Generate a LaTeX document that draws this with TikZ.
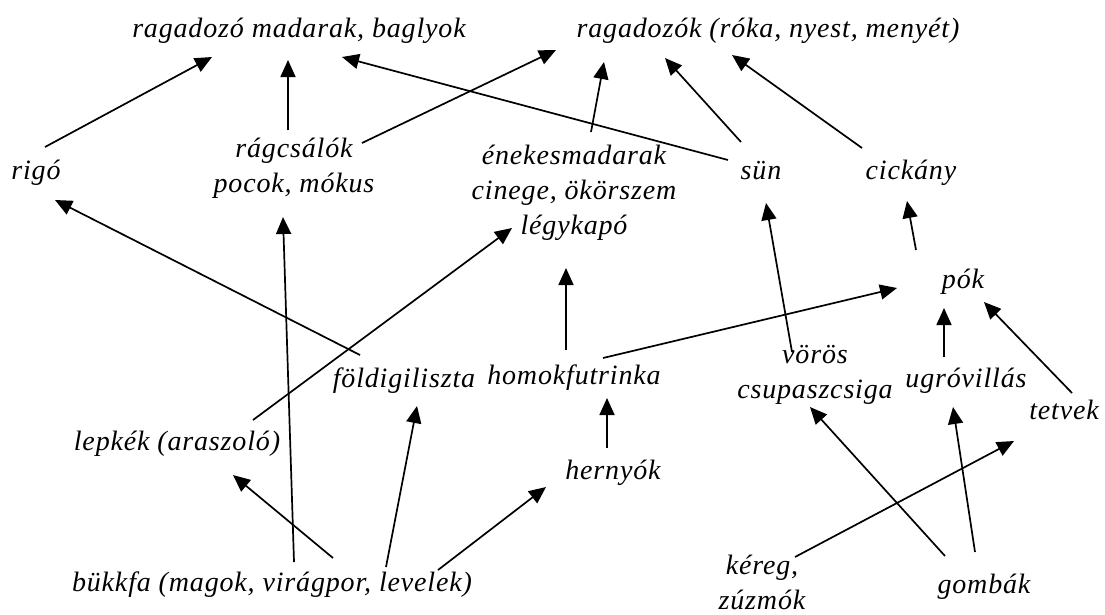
\documentclass[tikz,border=0pt]{standalone}
\usepackage{fontspec}
\setmainfont{Liberation Serif}[LetterSpace=3]
\usetikzlibrary{arrows.meta}

\tikzset{
  taxon/.style={font=\fontsize{28}{35}\selectfont\itshape, inner sep=0pt,
    text height=20pt, text depth=6pt},
  taxa/.style={font=\fontsize{28}{35}\selectfont\itshape, inner sep=0pt,
    align=center},
  feed/.style={-{Triangle[length=17pt, width=15pt]}, line width=1.7pt}
}

\begin{document}
\begin{tikzpicture}[x=1pt, y=-1pt]
  \useasboundingbox (0,0) rectangle (1105,614);

  % Top predators
  \node[taxon] (rmb) at (299,30) {ragadozó madarak, baglyok};
  \node[taxon] (rag) at (768,30) {ragadozók (róka, nyest, menyét)};

  % Consumers
  \node[taxon] (rigo) at (36,172) {rigó};
  \node[taxa] (ragcs) at (294,168) {rágcsálók\\pocok, mókus};
  \node[taxa] (enekes) at (574,193) {énekesmadarak\\cinege, ökörszem\\légykapó};
  \node[taxon] (sun) at (761,172) {sün};
  \node[taxon] (cick) at (911,172) {cickány};
  \node[taxon] (pok) at (963,281) {pók};
  \node[taxon] (fold) at (404,380) {földigiliszta};
  \node[taxon] (homok) at (574,377) {homokfutrinka};
  \node[taxa] (voros) at (815,375) {vörös\\csupaszcsiga};
  \node[taxon] (ugro) at (966,380) {ugróvillás};
  \node[taxon] (tetvek) at (1064,412) {tetvek};
  \node[taxon] (lepkek) at (177,443) {lepkék (araszoló)};
  \node[taxon] (hernyok) at (613,472) {hernyók};

  % Producers
  \node[taxon] (bukk) at (272,584) {bükkfa (magok, virágpor, levelek)};
  \node[taxa] (kereg) at (762,582) {kéreg,\\zúzmók};
  \node[taxon] (gomb) at (984,586) {gombák};

  % Who is eaten by whom: from/offset -> to/offset
  \foreach \a/\ax/\ay/\b/\bx/\by in {
    rigo/9/-25/rmb/-87/27,
    ragcs/-6/-38/rmb/-11/30,
    ragcs/68/-25/rag/-212/20,
    sun/-33/-12/rmb/43/27,
    enekes/17/-61/rag/-164/32,
    sun/-20/-30/rag/-103/28,
    cick/-49/-24/rag/-36/25,
    fold/-44/-25/rigo/19/28,
    bukk/22/-22/ragcs/-11/49,
    lepkek/76/-23/enekes/-62/35,
    homok/-8/-27/enekes/-8/75,
    homok/29/-19/pok/-66/7,
    voros/-23/-23/sun/5/31,
    pok/-47/-31/cick/-4/29,
    ugro/-22/-23/pok/-19/27,
    tetvek/8/-19/pok/21/21,
    hernyok/-6/-24/homok/33/21,
    bukk/61/-26/lepkek/56/32,
    bukk/114/-17/fold/13/26,
    bukk/166/-14/hernyok/-67/15,
    gomb/-39/-30/voros/-5/32,
    gomb/-9/-34/ugro/-13/27,
    kereg/33/-25/tetvek/-50/29
  } {
    \draw[feed] ([shift={(\ax,\ay)}]\a.center) -- ([shift={(\bx,\by)}]\b.center);
  }
\end{tikzpicture}
\end{document}
